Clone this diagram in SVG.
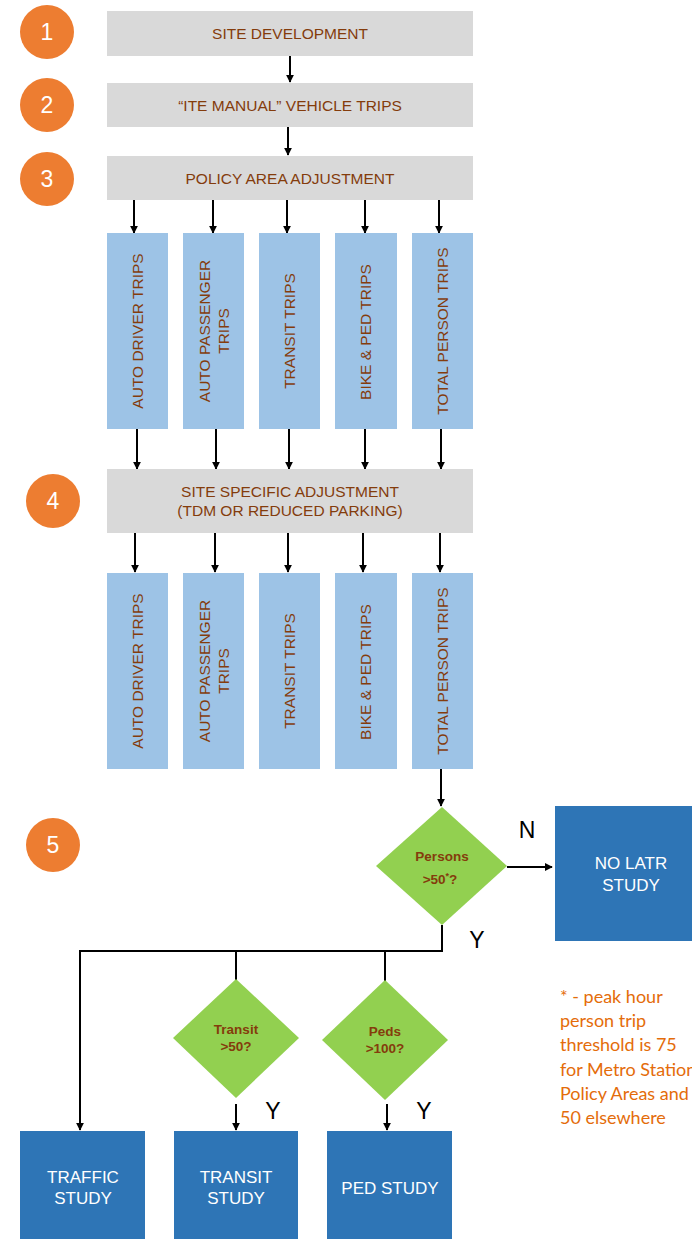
<svg xmlns="http://www.w3.org/2000/svg" width="692" height="1239" viewBox="0 0 692 1239">
<defs>
<marker id="ah" viewBox="0 0 10 10" refX="9" refY="5" markerWidth="4" markerHeight="4" orient="auto" markerUnits="strokeWidth">
<path d="M0,0 L10,5 L0,10 z" fill="#000"/>
</marker>
<style>
.num{fill:#ED7D31}
.numt{fill:#fff;font-family:"Liberation Sans",Arial,sans-serif;font-size:23px;text-anchor:middle}
.gray{fill:#D9D9D9}
.lb{fill:#9DC3E6}
.gt{fill:#843C0C;font-family:"Liberation Sans",Arial,sans-serif;font-size:15.5px;text-anchor:middle}
.vt{fill:#843C0C;font-family:"Liberation Sans",Arial,sans-serif;font-size:15.5px;text-anchor:middle}
.dia{fill:#92D050}
.dt{fill:#843C0C;font-family:"Liberation Sans",Arial,sans-serif;font-size:13.5px;font-weight:bold;text-anchor:middle}
.db{fill:#2E75B6}
.wt{fill:#fff;font-family:"Liberation Sans",Arial,sans-serif;font-size:17px;text-anchor:middle}
.yn{fill:#000;font-family:"Liberation Sans",Arial,sans-serif;font-size:23px;text-anchor:middle}
.note{fill:#E46C0A;font-family:Lato,"Open Sans",sans-serif;font-size:18px}
.c{stroke:#000;stroke-width:2;fill:none}
.ca{stroke:#000;stroke-width:2;fill:none;marker-end:url(#ah)}
</style>
</defs>
<rect width="692" height="1239" fill="#fff"/>

<g id="steps">
<g id="step1"><circle class="num" cx="47" cy="32" r="27"/><text class="numt" x="47" y="40">1</text></g>
<g id="step2"><circle class="num" cx="47" cy="105" r="27"/><text class="numt" x="47" y="113">2</text></g>
<g id="step3"><circle class="num" cx="47" cy="179" r="27"/><text class="numt" x="47" y="187">3</text></g>
<g id="step4"><circle class="num" cx="53" cy="501" r="27"/><text class="numt" x="53" y="509">4</text></g>
<g id="step5"><circle class="num" cx="53" cy="845" r="27"/><text class="numt" x="53" y="853">5</text></g>
</g>

<g id="connectors">
<line class="ca" x1="290" y1="56" x2="290" y2="82"/>
<line class="ca" x1="288" y1="127" x2="288" y2="155"/>
<line class="ca" x1="134" y1="200" x2="134" y2="233"/>
<line class="ca" x1="213" y1="200" x2="213" y2="233"/>
<line class="ca" x1="287" y1="200" x2="287" y2="233"/>
<line class="ca" x1="365" y1="200" x2="365" y2="233"/>
<line class="ca" x1="439" y1="200" x2="439" y2="233"/>
<line class="ca" x1="137" y1="429" x2="137" y2="469"/>
<line class="ca" x1="216" y1="429" x2="216" y2="469"/>
<line class="ca" x1="289" y1="429" x2="289" y2="469"/>
<line class="ca" x1="365" y1="429" x2="365" y2="469"/>
<line class="ca" x1="441" y1="429" x2="441" y2="469"/>
<line class="ca" x1="135" y1="533" x2="135" y2="572"/>
<line class="ca" x1="215" y1="533" x2="215" y2="572"/>
<line class="ca" x1="288" y1="533" x2="288" y2="572"/>
<line class="ca" x1="363" y1="533" x2="363" y2="572"/>
<line class="ca" x1="440" y1="533" x2="440" y2="572"/>
<line class="ca" x1="441" y1="769" x2="441" y2="806"/>
<line class="ca" x1="507" y1="867" x2="552" y2="867"/>
<polyline class="ca" points="442,925 442,951 80,951 80,1130"/>
<line class="c" x1="236" y1="951" x2="236" y2="980"/>
<line class="c" x1="385" y1="951" x2="385" y2="981"/>
<line class="ca" x1="236" y1="1104" x2="236" y2="1130"/>
<line class="ca" x1="387" y1="1104" x2="387" y2="1130"/>
<text class="yn" x="527" y="838">N</text>
<text class="yn" x="477" y="948">Y</text>
<text class="yn" x="273" y="1119">Y</text>
<text class="yn" x="424" y="1119">Y</text>
</g>

<g id="site-development"><rect class="gray" x="107" y="11" width="366" height="45"/><text class="gt" x="290" y="39">SITE DEVELOPMENT</text></g>
<g id="ite-manual"><rect class="gray" x="107" y="83" width="366" height="44"/><text class="gt" x="290" y="111">“ITE MANUAL” VEHICLE TRIPS</text></g>
<g id="policy-area"><rect class="gray" x="107" y="156" width="366" height="44"/><text class="gt" x="290" y="184">POLICY AREA ADJUSTMENT</text></g>

<g id="r1-auto-driver"><rect class="lb" x="107" y="233" width="61" height="196"/><text class="vt" transform="translate(143,331) rotate(-90)" x="0" y="0">AUTO DRIVER TRIPS</text></g>
<g id="r1-auto-passenger"><rect class="lb" x="183" y="233" width="61" height="196"/><text class="vt" transform="translate(210,331) rotate(-90)"><tspan x="0" y="0">AUTO PASSENGER</tspan><tspan x="0" y="18.5">TRIPS</tspan></text></g>
<g id="r1-transit"><rect class="lb" x="259" y="233" width="61" height="196"/><text class="vt" transform="translate(295,331) rotate(-90)" x="0" y="0">TRANSIT TRIPS</text></g>
<g id="r1-bike-ped"><rect class="lb" x="335" y="233" width="62" height="196"/><text class="vt" transform="translate(371,332) rotate(-90)" x="0" y="0">BIKE &amp; PED TRIPS</text></g>
<g id="r1-total-person"><rect class="lb" x="412" y="233" width="61" height="196"/><text class="vt" transform="translate(448,331) rotate(-90)" x="0" y="0">TOTAL PERSON TRIPS</text></g>

<g id="site-specific"><rect class="gray" x="107" y="469" width="366" height="64"/><text class="gt"><tspan x="290" y="497">SITE SPECIFIC ADJUSTMENT</tspan><tspan x="290" y="516">(TDM OR REDUCED PARKING)</tspan></text></g>

<g id="r2-auto-driver"><rect class="lb" x="107" y="573" width="61" height="196"/><text class="vt" transform="translate(143,671) rotate(-90)" x="0" y="0">AUTO DRIVER TRIPS</text></g>
<g id="r2-auto-passenger"><rect class="lb" x="183" y="573" width="61" height="196"/><text class="vt" transform="translate(210,671) rotate(-90)"><tspan x="0" y="0">AUTO PASSENGER</tspan><tspan x="0" y="18.5">TRIPS</tspan></text></g>
<g id="r2-transit"><rect class="lb" x="259" y="573" width="61" height="196"/><text class="vt" transform="translate(295,671) rotate(-90)" x="0" y="0">TRANSIT TRIPS</text></g>
<g id="r2-bike-ped"><rect class="lb" x="335" y="573" width="62" height="196"/><text class="vt" transform="translate(371,672) rotate(-90)" x="0" y="0">BIKE &amp; PED TRIPS</text></g>
<g id="r2-total-person"><rect class="lb" x="412" y="573" width="61" height="196"/><text class="vt" transform="translate(448,671) rotate(-90)" x="0" y="0">TOTAL PERSON TRIPS</text></g>

<g id="persons-decision"><polygon class="dia" points="442,807 507,866 442,925 376,866"/><text class="dt"><tspan x="442" y="861">Persons</tspan><tspan x="440" y="884">&gt;50<tspan font-size="9" dy="-5">*</tspan><tspan dy="5">?</tspan></tspan></text></g>
<g id="no-latr"><rect class="db" x="555" y="806" width="140" height="135"/><text class="wt"><tspan x="631" y="869">NO LATR</tspan><tspan x="631" y="891">STUDY</tspan></text></g>

<g id="transit-decision"><polygon class="dia" points="236,979 299,1038 236,1098 173,1038"/><text class="dt"><tspan x="236" y="1034">Transit</tspan><tspan x="236" y="1051">&gt;50?</tspan></text></g>
<g id="peds-decision"><polygon class="dia" points="385,980 448,1040 385,1100 322,1040"/><text class="dt"><tspan x="385" y="1036">Peds</tspan><tspan x="385" y="1053">&gt;100?</tspan></text></g>

<g id="traffic-study"><rect class="db" x="20" y="1131" width="125" height="110"/><text class="wt"><tspan x="83" y="1183">TRAFFIC</tspan><tspan x="83" y="1204">STUDY</tspan></text></g>
<g id="transit-study"><rect class="db" x="174" y="1131" width="124" height="110"/><text class="wt"><tspan x="236" y="1183">TRANSIT</tspan><tspan x="236" y="1204">STUDY</tspan></text></g>
<g id="ped-study"><rect class="db" x="327" y="1131" width="125" height="110"/><text class="wt" x="390" y="1194">PED STUDY</text></g>

<g id="footnote"><text class="note"><tspan x="560" y="1003">* - peak hour</tspan><tspan x="560" y="1027">person trip</tspan><tspan x="560" y="1051">threshold is 75</tspan><tspan x="560" y="1076">for Metro Station</tspan><tspan x="560" y="1100">Policy Areas and</tspan><tspan x="560" y="1124">50 elsewhere</tspan></text></g>
</svg>
